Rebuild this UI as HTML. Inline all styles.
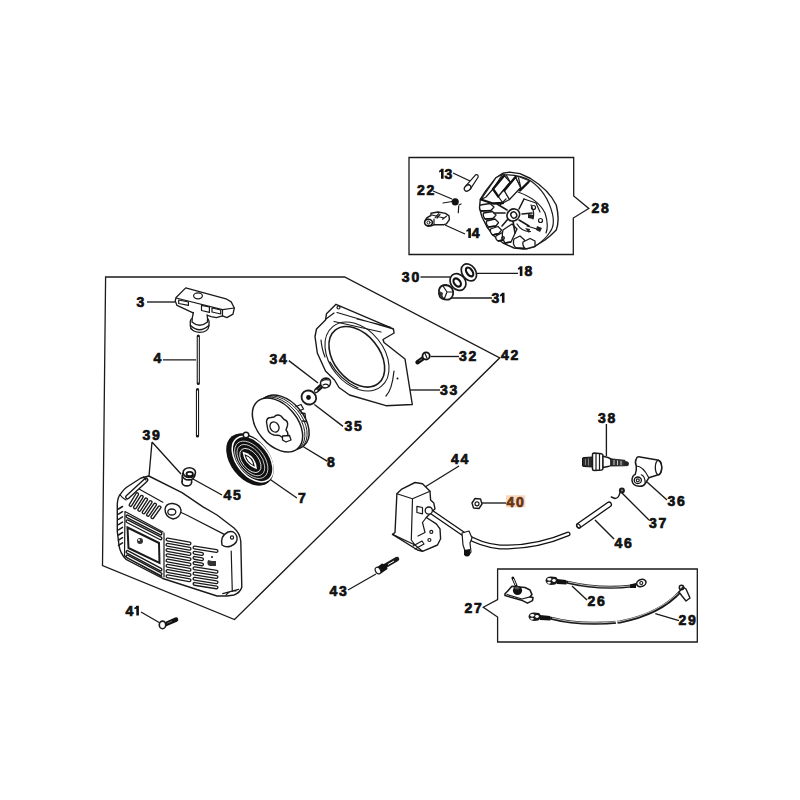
<!DOCTYPE html>
<html><head><meta charset="utf-8">
<style>
html,body{margin:0;padding:0;background:#fff;width:800px;height:800px;overflow:hidden}
svg{display:block}
text{font-family:"Liberation Sans",sans-serif;font-weight:bold;font-size:14px;letter-spacing:1.8px;fill:#111;stroke:#111;stroke-width:0.7}
.l{stroke:#1a1a1a;stroke-width:1.3;fill:none}
.t{stroke:#1a1a1a;stroke-width:1.2;fill:none;stroke-linejoin:round;stroke-linecap:round}
.w{stroke:#1a1a1a;stroke-width:1.2;fill:#fff;stroke-linejoin:round}
</style></head>
<body>
<svg width="800" height="800" viewBox="0 0 800 800">
<rect width="800" height="800" fill="#fff"/>

<!-- ===== frames ===== -->
<path class="l" d="M409,157.5 H573.7 V196 L588.8,208.5 L573.3,218 V254.5 H409 Z"/>
<path class="l" d="M105.6,277 H344.6 L499.8,357.8 L234.5,619.5 L102.5,565.5 Z"/>
<path class="l" d="M497.6,569 H697.3 V642 H497.6 V617 L483.3,607.2 L497.6,599.6 Z"/>

<!-- ===== labels ===== -->
<g id="labels">
<path d="M441.0,168.8 H443.6 V178.7 H441.0 V171.8 L439.1,172.4 V170.7 Q440.7,170.3 441.0,168.8 Z" fill="#111"/><text x="444.6" y="178.7">3</text>
<text x="417" y="195">22</text>
<path d="M468.3,228.2 H470.9 V238.1 H468.3 V231.2 L466.4,231.8 V230.1 Q468.0,229.7 468.3,228.2 Z" fill="#111"/><text x="471.7" y="238.1">4</text>
<text x="591.5" y="213.3">28</text>
<text x="401.8" y="281.5">30</text>
<path d="M519.8,266.2 H522.4 V276.1 H519.8 V269.2 L517.9,269.8 V268.1 Q519.5,267.7 519.8,266.2 Z" fill="#111"/><text x="524.5" y="276.1">8</text>
<text x="491.5" y="302.7">3</text><path d="M501.9,292.8 H504.5 V302.7 H501.9 V295.8 L500.0,296.4 V294.7 Q501.6,294.3 501.9,292.8 Z" fill="#111"/>
<text x="136.5" y="307">3</text>
<text x="153.5" y="363">4</text>
<text x="269.5" y="363.8">34</text>
<text x="459" y="361">32</text>
<text x="501" y="360.4">42</text>
<text x="440" y="394.5">33</text>
<text x="344.5" y="430.6">35</text>
<text x="598" y="422.8">38</text>
<text x="142.5" y="440">39</text>
<text x="327" y="467.2">8</text>
<text x="451" y="463.6">44</text>
<text x="223.5" y="500.4">45</text>
<text x="298" y="502.5">7</text>
<rect x="506" y="495.2" width="19.3" height="12.2" fill="#f7dac3"/>
<text x="506.5" y="506.5" style="fill:#6a3414;stroke:#6a3414">40</text>
<text x="667.5" y="506">36</text>
<text x="649" y="527.6">37</text>
<text x="614.5" y="548">46</text>
<text x="329.5" y="596">43</text>
<text x="587.5" y="606">26</text>
<text x="464.5" y="612.5">27</text>
<text x="678.5" y="625">29</text>
<text x="125.5" y="615.6">4</text><path d="M136.3,605.7 H138.9 V615.6 H136.3 V608.7 L134.4,609.3 V607.6 Q136.0,607.2 136.3,605.7 Z" fill="#111"/>
</g>

<!-- ===== leaders ===== -->
<g class="l" style="stroke-width:1.35">
<path d="M453,173 L470,181"/>
<path d="M433,191 L452,199"/>
<path d="M445,225 L465,234"/>
<path d="M420.5,277 H450"/>
<path d="M477,273.4 H518"/>
<path d="M450,298 H492"/>
<path d="M147,302 H175"/>
<path d="M163,359.8 H196"/>
<path d="M288.8,360.6 L318,383"/>
<path d="M430.6,356.5 H459"/>
<path d="M408,390 H440"/>
<path d="M314.4,404.5 L343,426.4"/>
<path d="M606.4,424 V456"/>
<path d="M152,442 L149,476 M152,442 L181,474"/>
<path d="M303,446.5 L327.5,461.4"/>
<path d="M459,466 L425,487"/>
<path d="M193,479 L222,495"/>
<path d="M270.6,479.8 L296.9,498"/>
<path d="M482,503 H506"/>
<path d="M647,482 L667,500"/>
<path d="M622,493 L649,520"/>
<path d="M595,520 L614,539"/>
<path d="M348,590 L376,574"/>
<path d="M572,586 L587,600"/>
<path d="M655.3,613.6 L679,620.6"/>
<path d="M141,612 L160,623"/>
</g>

<g id="parts">
<!-- 7 recoil spring -->
<g transform="translate(250,459.5) rotate(52)">
<ellipse cx="0" cy="0" rx="29.5" ry="19.5" fill="#111"/>
<ellipse cx="1.3" cy="-2.3" rx="26" ry="16" fill="none" stroke="#fff" stroke-width="1.5"/>
<ellipse cx="1" cy="-0.8" rx="21.5" ry="12.8" fill="none" stroke="#fff" stroke-width="0.7"/>
<ellipse cx="1" cy="-0.3" rx="18" ry="10.5" fill="none" stroke="#fff" stroke-width="0.7"/>
<ellipse cx="1" cy="0.3" rx="14" ry="8" fill="none" stroke="#fff" stroke-width="0.8"/>
<path d="M-11,1 Q0,-7.5 12,0.5 Q1,8 -11,1 Z" fill="#fff"/>
<path d="M-6.5,1 Q0,-3.5 7.5,0.7 Q0.5,4.5 -6.5,1 Z" fill="none" stroke="#111" stroke-width="1.1"/>
</g>
<circle cx="246" cy="435" r="2.8" class="w" style="stroke-width:1.5"/>

<!-- 8 pulley -->
<g transform="translate(284,422) rotate(50)">
<ellipse cx="0" cy="0" rx="31" ry="20" class="w" style="stroke-width:1.5"/>
</g>
<g transform="translate(279.8,424) rotate(50)">
<ellipse cx="0" cy="0" rx="31" ry="20" fill="none" stroke="#1a1a1a" stroke-width="0.9"/>
</g>
<g transform="translate(282,423) rotate(50)">
<ellipse cx="0" cy="0" rx="31" ry="20" fill="none" stroke="#1a1a1a" stroke-width="0.9"/>
</g>
<g transform="translate(277.5,425) rotate(50)">
<ellipse cx="0" cy="0" rx="31" ry="20" class="w" style="stroke-width:1.5"/>
</g>
<path class="w" style="stroke-width:1.4" d="M266.5,422 Q266.5,417.5 271,417.5 L274,417 Q277,413.5 281,416 L284,419.5 Q288.5,421 287.5,425.5 L286,430 Q289.5,434 286.5,437.5 Q282.5,438.5 279.5,435.5 L274,435 Q268,433.5 267.5,428 Z"/>
<ellipse cx="274.5" cy="427" rx="4.3" ry="5.3" class="t" style="stroke-width:1.3" transform="rotate(-30 274.5 427)"/>
<path class="w" style="stroke-width:1.3" d="M282.5,436 L289.5,435.5 L291,440 L286,442 L282.5,440 Z"/>
<path class="t" style="stroke-width:1.3" d="M296,406.5 L301,404.5 L303.5,409 L299,411 M301,413 L305,413.5 L305.5,418 M302.5,421 L306.5,421.5"/>

<!-- 39 starter cover -->
<path class="w" style="stroke-width:1.4" d="M148.8,476 L182,492.6 L203,506.8 L217,515 L234,528 Q240,533 240.8,541.6 L241.8,587.3 Q240,593 234,595 L227,596 L217,596 L162.8,578.5 L126,559.3 Q120,553 119,545.3 L117.3,531.5 L117.3,503.5 Q118,497 120,494.8 Q124,489 127,487 L141,478 Z"/>
<path class="t" d="M120,494.8 Q122,498 126,500 M139,489 L162.8,502.2 M180,512 L186.6,515 L223.8,534.1 M231.2,551.1 L232.3,591.5 M164,533 L164,577"/>
<path class="t" d="M125,511.5 L163,532 M124.5,556 L162,577 M125,511.5 L124.5,556"/>
<path d="M146.0,480.0 L127.5,497.0" stroke="#1a1a1a" stroke-width="5" stroke-linecap="round"/><path d="M146.0,480.0 L127.5,497.0" stroke="#fff" stroke-width="2.2" stroke-linecap="round"/>
<path d="M130.6,505.0 L137.2,494.2" stroke="#1a1a1a" stroke-width="4.1" stroke-linecap="round"/><path d="M130.6,505.0 L137.2,494.2" stroke="#fff" stroke-width="1.4" stroke-linecap="round"/>
<path d="M135.0,507.4 L141.7,496.8" stroke="#1a1a1a" stroke-width="4.1" stroke-linecap="round"/><path d="M135.0,507.4 L141.7,496.8" stroke="#fff" stroke-width="1.4" stroke-linecap="round"/>
<path d="M139.3,509.9 L146.1,499.4" stroke="#1a1a1a" stroke-width="4.1" stroke-linecap="round"/><path d="M139.3,509.9 L146.1,499.4" stroke="#fff" stroke-width="1.4" stroke-linecap="round"/>
<path d="M143.7,512.4 L150.6,502.1" stroke="#1a1a1a" stroke-width="4.1" stroke-linecap="round"/><path d="M143.7,512.4 L150.6,502.1" stroke="#fff" stroke-width="1.4" stroke-linecap="round"/>
<path d="M148.0,514.8 L155.0,504.7" stroke="#1a1a1a" stroke-width="4.1" stroke-linecap="round"/><path d="M148.0,514.8 L155.0,504.7" stroke="#fff" stroke-width="1.4" stroke-linecap="round"/>
<path d="M152.4,517.2 L159.5,507.3" stroke="#1a1a1a" stroke-width="4.1" stroke-linecap="round"/><path d="M152.4,517.2 L159.5,507.3" stroke="#fff" stroke-width="1.4" stroke-linecap="round"/>
<path d="M127.5,516.5 L160.5,533.5" stroke="#1a1a1a" stroke-width="4.1" stroke-linecap="round"/><path d="M127.5,516.5 L160.5,533.5" stroke="#fff" stroke-width="1.4" stroke-linecap="round"/>
<path d="M127.5,521.3 L160.5,538.3" stroke="#1a1a1a" stroke-width="4.1" stroke-linecap="round"/><path d="M127.5,521.3 L160.5,538.3" stroke="#fff" stroke-width="1.4" stroke-linecap="round"/>
<path d="M127.5,552.0 L160.5,569.5" stroke="#1a1a1a" stroke-width="4.1" stroke-linecap="round"/><path d="M127.5,552.0 L160.5,569.5" stroke="#fff" stroke-width="1.4" stroke-linecap="round"/>
<path d="M127.5,556.5 L160.5,574.0" stroke="#1a1a1a" stroke-width="4.1" stroke-linecap="round"/><path d="M127.5,556.5 L160.5,574.0" stroke="#fff" stroke-width="1.4" stroke-linecap="round"/>
<path d="M127.5,527.5 L159,543 L159.5,563 L128.5,548 Z" fill="#fff" stroke="#1a1a1a" stroke-width="2"/>
<circle cx="140" cy="541" r="3" fill="#333"/><circle cx="139" cy="540" r="1" fill="#fff"/>
<path class="t" style="stroke-width:1.5" d="M118.5,509.0 L122.5,506.5 M118.5,514.2 L122.5,511.7 M118.5,519.4 L122.5,516.9 M118.5,524.6 L122.5,522.1 M118.5,529.8 L122.5,527.3 M118.5,535.0 L122.5,532.5 M118.5,540.2 L122.5,537.7 M118.5,545.4 L122.5,542.9"/>
<path d="M167.5,539.5 L189.5,543.5" stroke="#1a1a1a" stroke-width="4.1" stroke-linecap="round"/><path d="M167.5,539.5 L189.5,543.5" stroke="#fff" stroke-width="1.4" stroke-linecap="round"/>
<path d="M167.5,544.8 L189.5,548.8" stroke="#1a1a1a" stroke-width="4.1" stroke-linecap="round"/><path d="M167.5,544.8 L189.5,548.8" stroke="#fff" stroke-width="1.4" stroke-linecap="round"/>
<path d="M167.5,550.0 L189.5,554.0" stroke="#1a1a1a" stroke-width="4.1" stroke-linecap="round"/><path d="M167.5,550.0 L189.5,554.0" stroke="#fff" stroke-width="1.4" stroke-linecap="round"/>
<path d="M167.5,555.2 L189.5,559.2" stroke="#1a1a1a" stroke-width="4.1" stroke-linecap="round"/><path d="M167.5,555.2 L189.5,559.2" stroke="#fff" stroke-width="1.4" stroke-linecap="round"/>
<path d="M167.5,560.5 L189.5,564.5" stroke="#1a1a1a" stroke-width="4.1" stroke-linecap="round"/><path d="M167.5,560.5 L189.5,564.5" stroke="#fff" stroke-width="1.4" stroke-linecap="round"/>
<path d="M167.5,565.8 L189.5,569.8" stroke="#1a1a1a" stroke-width="4.1" stroke-linecap="round"/><path d="M167.5,565.8 L189.5,569.8" stroke="#fff" stroke-width="1.4" stroke-linecap="round"/>
<path d="M167.5,571.0 L189.5,575.0" stroke="#1a1a1a" stroke-width="4.1" stroke-linecap="round"/><path d="M167.5,571.0 L189.5,575.0" stroke="#fff" stroke-width="1.4" stroke-linecap="round"/>
<path d="M167.5,576.2 L189.5,580.2" stroke="#1a1a1a" stroke-width="4.1" stroke-linecap="round"/><path d="M167.5,576.2 L189.5,580.2" stroke="#fff" stroke-width="1.4" stroke-linecap="round"/>
<path d="M194.5,547.5 L216.5,551.0" stroke="#1a1a1a" stroke-width="4.1" stroke-linecap="round"/><path d="M194.5,547.5 L216.5,551.0" stroke="#fff" stroke-width="1.4" stroke-linecap="round"/>
<path d="M194.5,552.7 L202.0,554.0" stroke="#1a1a1a" stroke-width="4.1" stroke-linecap="round"/><path d="M194.5,552.7 L202.0,554.0" stroke="#fff" stroke-width="1.4" stroke-linecap="round"/>
<path d="M194.5,557.9 L202.0,559.2" stroke="#1a1a1a" stroke-width="4.1" stroke-linecap="round"/><path d="M194.5,557.9 L202.0,559.2" stroke="#fff" stroke-width="1.4" stroke-linecap="round"/>
<path d="M194.5,563.1 L202.0,564.4" stroke="#1a1a1a" stroke-width="4.1" stroke-linecap="round"/><path d="M194.5,563.1 L202.0,564.4" stroke="#fff" stroke-width="1.4" stroke-linecap="round"/>
<path d="M194.5,568.3 L216.5,571.8" stroke="#1a1a1a" stroke-width="4.1" stroke-linecap="round"/><path d="M194.5,568.3 L216.5,571.8" stroke="#fff" stroke-width="1.4" stroke-linecap="round"/>
<path d="M194.5,573.5 L216.5,577.0" stroke="#1a1a1a" stroke-width="4.1" stroke-linecap="round"/><path d="M194.5,573.5 L216.5,577.0" stroke="#fff" stroke-width="1.4" stroke-linecap="round"/>
<path d="M194.5,578.7 L216.5,582.2" stroke="#1a1a1a" stroke-width="4.1" stroke-linecap="round"/><path d="M194.5,578.7 L216.5,582.2" stroke="#fff" stroke-width="1.4" stroke-linecap="round"/>
<path d="M194.5,583.9 L216.5,587.4" stroke="#1a1a1a" stroke-width="4.1" stroke-linecap="round"/><path d="M194.5,583.9 L216.5,587.4" stroke="#fff" stroke-width="1.4" stroke-linecap="round"/>
<path d="M208,560 Q206,565 210,566 L216,566 L216,561 L212,561 Z" fill="#333"/><circle cx="212" cy="557" r="1.1" fill="#222"/>
<path class="w" style="stroke-width:1.4" d="M165,509 Q166,503 173,503.5 Q181,505 181,511 Q180,518 173,519 Q165,517 165,509 Z"/>
<ellipse cx="171.8" cy="512" rx="4" ry="3" class="t" style="stroke-width:1.3"/>
<path class="w" style="stroke-width:1.4" d="M222,545 Q220,536 228,532 Q235,530 237,537 Q238,543 231,546 Q226,548 222,545 Z"/>
<circle cx="232" cy="537.5" r="1.6" class="t"/>
<path class="t" d="M222.7,593.6 L238.6,589.4 M226,595 Q230,590 236,591"/>
<path class="t" d="M143.5,477 L146,480"/>

<!-- 45 grommet -->
<ellipse cx="186.8" cy="482.3" rx="4.8" ry="3.6" class="w" style="stroke-width:1.6"/>
<path d="M182.5,478 L191.5,478 L191.5,482 L182.5,482 Z" fill="#fff"/>
<path class="t" style="stroke-width:1.5" d="M182.2,476 L182.2,482 M191.6,476 L191.6,482"/>
<ellipse cx="188.6" cy="475.3" rx="6.2" ry="4.6" class="w" style="stroke-width:1.6"/>
<ellipse cx="189.3" cy="472.6" rx="6.2" ry="4.8" class="w" style="stroke-width:1.6"/>
<ellipse cx="189.7" cy="474" rx="3.2" ry="2.2" fill="#fff" stroke="#111" stroke-width="1.8"/>

<!-- 41 screw -->
<path fill="none" stroke="#111" stroke-width="4.6" stroke-linecap="round" d="M166,624 L176,619.6"/>
<path stroke="#777" stroke-width="0.8" d="M167,623.3 L172,621.2"/>
<ellipse cx="162.5" cy="624.9" rx="3.2" ry="3.8" class="w" style="stroke-width:1.6"/>

<!-- 3 handle -->
<path class="w" style="stroke-width:1.3" d="M176.1,297.5 L185.7,287.9 L226,298.8 L231.2,301.9 L234.3,308 L233,314.1 L226.9,317.6 L222.5,315.9 L216.4,317.6 L211.1,316.7 L206.7,315 L207.6,318.5 L208.5,322 L207.6,329 L198.9,331.6 L191,329 L190.6,322.9 L193.6,316.7 L193.6,313.2 L177,305.4 L175.2,301 Z"/>
<path class="t" d="M176.1,298 L222.5,309.7 L234.3,308 M222.5,309.7 L222.5,316"/>
<ellipse cx="198" cy="295.8" rx="4.4" ry="3" class="t"/>
<path class="t" d="M178.7,300 L188.4,302 L188.4,305.4 L178.7,303.5 Z M201.5,305.4 L209.4,307 L209.4,312.4 L201.5,310.5 Z M212,308 L220.7,310 L220.7,314 L212,312 Z"/>
<path class="w" style="stroke-width:1.3" d="M190.3,321 Q191,316.5 199.5,316.8 Q208.5,317.2 209,321 L209,326 Q208,332.3 199.5,332.3 Q191,331.8 190.3,326 Z"/>
<path class="t" d="M190.6,325.5 Q199.5,334 208.8,325.5"/>
<path class="w" style="stroke-width:1.3" d="M193.5,312 Q192,318 192,322 Q199.5,328.5 207.5,322 Q207.5,318 207,314.5"/><path fill="#fff" d="M194.5,311 L206,313.5 L206.5,320 L193.5,320 Z"/>

<!-- 4 rope -->
<path class="t" style="stroke-width:3.2" d="M198.3,336 V383.5 M197.5,389.5 V436"/>
<path stroke="#fff" stroke-width="1" d="M198.3,337 V382.5 M197.5,390.5 V435"/>

<!-- 28 flywheel -->
<path class="w" style="stroke-width:1.4" d="M480.25,199.5 L485.5,191.25 L496,177.75 L502.75,173.25 L509.5,172.1 L520,173.6 L530.5,178.5 Q549,190 556.25,205 Q560,220 556.25,230 L550,236 L545,240 L535,246.25 L524.5,249 L514,248 L503,243 L494,236 L487,227 L482,217 L479.5,208 Z"/>
<path class="t" d="M502.75,174.75 Q520,174.5 530.5,180.75 Q547,192 552.5,214 Q555,226 550,232 Q545,240 535,246.25 L528.75,247.5 M518,192 Q538,199 545,213 Q549,225 546,233"/>
<!-- blades -->
<g class="w" style="stroke-width:1.2">
<path d="M481,199.5 L496,177.75 L502.75,174 L493,189 L486,197 Z"/>
<path d="M493,189 L504.25,175.5 L510.25,182.25 L498.25,196.5 Z"/>
<path d="M498.25,196.5 L510.25,182.25 L504.25,190.5 L509.5,199.5 L503,203 Z"/>
<path d="M504.25,190.5 L515.5,177 L520.75,187.5 L509.5,199.5 Z"/>
<path d="M515.5,177 L518.5,176.5 L530,181 L528.25,182.25 L520,190.5 L520.75,187.5 Z"/>
</g>
<path fill="none" stroke="#111" stroke-width="2.3" stroke-linejoin="round" stroke-linecap="round" d="M493,189 L504.25,175.5 M493,189 L498.25,196.5 M504.25,190.5 L515.5,177 M520,190.5 L528.25,182.25 M481,199.5 L493,203.5 L503,203"/>
<path class="t" d="M506.5,175.5 L510.25,182.25 M518.5,177.75 L520.75,187.5"/>
<!-- left tongues -->
<g class="w" style="stroke-width:1.3">
<path d="M480.3,205 L490,203.5 L494,207 L491,210.5 L481,211 Q478.5,208 480.3,205 Z"/>
<path d="M483.5,213 L492.5,211.5 L496,215 L493,218.5 L485,219 Q482.5,216 483.5,213 Z"/>
<path d="M486.5,221 L495,219 L498.5,222.5 L496,226 L488.5,227 Q485.5,224 486.5,221 Z"/>
<path d="M490.5,229 L498,226.5 L501.5,230 L499,233.5 L492.5,235 Q489.5,232 490.5,229 Z"/>
<path d="M496,236 L502.5,232.5 L506,236 L503,240 L498,241 Q495,239 496,236 Z"/>
</g>
<!-- lower fins -->
<g class="w" style="stroke-width:1.3">
<path d="M503,230 L512,224 L517,229 L511,242 L505,243 Q501,238 503,230 Z"/>
<path d="M514,239 L520,236 L524.5,240 L524,248.5 L516,248 Q512,244 514,239 Z"/>
<path d="M523,242 L530,238.5 L535,241 L535,246.5 L526,249 Q522,246 523,242 Z"/>
</g>
<path fill="none" stroke="#111" stroke-width="1.7" d="M491,210.5 L481,211 M493,218.5 L485,219 M496,226 L488.5,227 M499,233.5 L492.5,235 M503,240 L498,241 M511,242 L505,243 M524,248.5 L516,248"/>
<!-- spokes / hub -->
<g class="t" style="stroke-width:1.6">
<path d="M507,210 L497,204 M519,209 L524,199 M508,219 L502,226 M519,220 L529,226 M513,221 L515,233 M522,214 L532,213 M505,213 L494,213"/>
</g>
<path class="t" d="M517,224 Q522,232 530.5,231.5 M524,199 L536,203 L540,212 M531,205 Q535,212 533,219 M527,226 L540,230 M500,205 L506,199"/>
<ellipse cx="513.3" cy="215" rx="6.6" ry="5.8" class="w" style="stroke-width:1.6" transform="rotate(-35 513.3 215)"/>
<ellipse cx="513.8" cy="215" rx="2.8" ry="3.2" class="t" style="stroke-width:1.4" transform="rotate(-35 513.8 215)"/>
<circle cx="533.5" cy="207.5" r="2" class="t"/><circle cx="540.5" cy="220.5" r="2" class="t"/><circle cx="503" cy="238" r="1.4" class="t"/>
<path d="M528,214 L534,215 L533,219 L528,218 Z M537,226 L542,228 L540,232 L536,230 Z M525,228 L530,229 L529,233 Z" fill="#222"/>

<!-- 13 pin -->
<path class="w" style="stroke-width:1.2" d="M465.8,185.8 L475.8,174.6 Q478.3,174.2 478.2,177 L470.3,189.2 Z"/>
<ellipse cx="467.6" cy="188" rx="3.6" ry="2.7" class="w" style="stroke-width:1.3" transform="rotate(-40 467.6 188)"/>
<!-- 22 spring -->
<circle cx="455.2" cy="201.8" r="3.6" fill="#111"/>
<path class="t" d="M443,203 L452,201.5 M458.7,206 L458.3,212.7 M459,205 L461,204"/>
<!-- 14 pawl -->
<path class="w" style="stroke-width:1.4" d="M425,221 Q426,217.5 431,215.5 L431,213.2 L437.9,212 L445.5,213.4 L449,215.8 L449.4,219.6 L446.4,223.9 L443.8,224.7 L434,224.7 Q431,226.5 428,226 Q424.5,225 425,221 Z"/>
<ellipse cx="428.5" cy="222.6" rx="3.9" ry="3.3" fill="#fff" stroke="#111" stroke-width="1.6"/>
<circle cx="428.5" cy="222.6" r="1.5" class="t" style="stroke-width:1"/>
<path class="t" d="M435.3,217.5 L438.7,213.7 M437,218 L440,214.5 M442.5,219.2 L446.4,216.2 M432,215 L444,218 M434,224.7 L434,219"/>

<!-- 30 washer, 18 washer, 31 nut -->
<ellipse cx="458" cy="282" rx="9" ry="7.3" class="w" style="stroke-width:1.7" transform="rotate(52 458 282)"/>
<ellipse cx="457.2" cy="282.5" rx="4.6" ry="3" fill="#fff" stroke="#111" stroke-width="2.2" transform="rotate(52 457.2 282.5)"/>
<ellipse cx="468.9" cy="272.4" rx="9.2" ry="6.8" class="w" style="stroke-width:1.7" transform="rotate(55 468.9 272.4)"/>
<ellipse cx="469.6" cy="271.9" rx="5" ry="2.8" fill="#fff" stroke="#111" stroke-width="2.2" transform="rotate(55 469.6 271.9)"/>
<path class="w" style="stroke-width:1.8" d="M439,290 Q440,285 446,285 Q452,286 453,291 Q454,297 449,299.5 Q443,300.5 440,297 Q438.5,294 439,290 Z"/>
<path class="t" d="M443,286 L447,292 L453,292 M447,292 L444,299.5 M440,293 Q442,297 444,299"/>
<path d="M439.5,291 L443,293 L442,298 L440,296 Z" fill="#333"/>
<!-- 33 shroud -->
<path class="w" style="stroke-width:1.4" d="M336,304.3 L393.4,328.8 L394.1,333 L383,339.5 L384,342.5 L405,359 L412.3,404.5 L386,405.7 L349.5,395 L339,387.5 L334.5,380 L325.5,371 L317.3,353 L315,336.5 L316.5,329 L325.5,320 L326.5,313.7 Z"/>
<ellipse cx="357" cy="356.5" rx="38.5" ry="27" class="t" style="stroke-width:1.1" transform="rotate(51 357 356.5)"/>
<ellipse cx="356.8" cy="356.8" rx="34.3" ry="22.7" class="t" style="stroke-width:1.6" transform="rotate(51 356.8 356.8)"/>
<path class="t" d="M337,312.5 L393,329 M334,321.5 L381,332 M357,319 L390,327 M326,319 L334,313 M330,362 Q340,380 358,388 M394,371 Q392,390 386,396 M321,340 Q322,350 325,357"/>
<circle cx="338.5" cy="307.5" r="1.5" class="t"/>
<circle cx="397.5" cy="378.5" r="1" fill="#111"/>

<!-- 32 screw -->
<path fill="none" stroke="#111" stroke-width="4.4" stroke-linecap="round" d="M417.5,362.3 L423.5,358"/>
<path stroke="#888" stroke-width="0.8" d="M419,361 L422.5,358.5"/>
<circle cx="426.1" cy="355.9" r="3.6" fill="#fff" stroke="#111" stroke-width="1.8"/>
<path class="t" d="M425,353.5 L427,358"/>

<!-- 34 screw -->
<path fill="none" stroke="#111" stroke-width="5" stroke-linecap="round" d="M316.5,390.5 L322.5,385"/>
<path stroke="#666" stroke-width="1" d="M317.5,389.5 L321.5,386"/>
<ellipse cx="316.3" cy="390.8" rx="1.4" ry="1" fill="#fff" transform="rotate(-40 316.3 390.8)"/>
<path class="w" style="stroke-width:1.5" d="M320.5,383 Q321,378.5 326,378 Q331,378.5 330.5,383 Q330,387.5 325,388 Q320.5,387.5 320.5,383 Z"/>
<path class="t" d="M322,381 Q325,379 328.5,380 M323,385 Q327,383 329,386"/>
<!-- 35 washer -->
<ellipse cx="308.8" cy="397.5" rx="7.5" ry="6.8" class="w" style="stroke-width:1.8" transform="rotate(30 308.8 397.5)"/>
<circle cx="308.5" cy="397.5" r="2.4" fill="#111"/>
<!-- 44 coil -->
<path class="w" style="stroke-width:1.4" d="M396.9,493.8 L401.3,489.4 L415,482.5 L422.5,483.8 L430,491.3 L430.6,500 L433.8,503.1 L435,508.8 L426.3,517.5 L436.3,523.8 L440,528.8 L440.6,538.8 L437.5,545 L422.5,551.3 L417.5,550 L392.5,534.4 L395,532.5 Z"/>
<path class="t" d="M396.9,493.8 L412.5,498.8 L430,491.3 M412.5,498.8 L411.3,540 M392.5,534.4 L415,545 L422.5,551.3 M411.3,540 L415,545 M422.5,522.5 L425,532.5 L418,536 M426.3,517.5 L422.5,522.5"/>
<path class="t" d="M416.9,506.3 L422.5,507.5 L422.5,513.8 L416.9,512.5 Z"/>
<circle cx="431.3" cy="531.9" r="1.5" class="t"/><circle cx="429.4" cy="540" r="1.5" class="t"/>
<path class="t" style="stroke-width:1.2" d="M413,546 L422,541 L424,544 L415,549"/>
<!-- wire -->
<path fill="none" stroke="#111" stroke-width="5" stroke-linecap="round" d="M430,511 L465,535 Q480,545 500,547 Q535,548 568,534"/>
<path fill="none" stroke="#fff" stroke-width="2.4" stroke-linecap="round" d="M430,511 L465,535 Q480,545 500,547 Q535,548 568,534"/>
<circle cx="428.8" cy="510.6" r="3.6" class="w" style="stroke-width:1.3"/>
<path class="w" d="M462,533 L469,531 L472,538 L470,543 L471,552 Q469,556 466,554 L463,545 Z"/>
<path d="M464,550 L470,549 L470,555 Q467,558 464,555 Z" fill="#111"/>
<!-- 40 nut -->
<path class="w" style="stroke-width:1.4" d="M472,503 L475,498.5 L480.5,499 L482,504 L479,508.5 L473.5,508 Z"/>
<circle cx="477" cy="503.8" r="2" class="t"/>
<!-- 43 screw -->
<path class="t" style="stroke-width:4.5" d="M385,566 L397,559"/>
<path stroke="#fff" stroke-width="1" d="M388,564.5 L394,561"/>
<path d="M376,568 L382,563.5 L386.5,565 L387.5,569 L381,573.5 L377,573 Z" fill="#111"/>
<ellipse cx="378" cy="570.6" rx="2.5" ry="3.5" class="w" transform="rotate(-30 378 570.6)"/>

<!-- 38 spark plug -->
<path d="M582.5,459 Q582,457.5 584,457.5 L592.5,457 L592.5,467 L584,466.5 Q582,466.5 582.5,465 Z" fill="#2a2a2a" stroke="#111" stroke-width="1"/>
<path stroke="#aaa" stroke-width="0.7" d="M585.5,459 V465 M588.5,458.5 V465.5"/>
<path class="w" style="stroke-width:1.5" d="M592.5,454.5 Q592.5,453 594.5,453 L601.5,453.8 Q603,454 603,456 L603,468 Q603,469.8 601.5,470 L594.5,470.5 Q592.5,470.5 592.5,469 Z"/>
<path class="t" d="M596,453.5 V470.3 M599.5,454 V469.8"/>
<path class="w" style="stroke-width:1.4" d="M603,456.3 L608,457.5 Q611,458.5 611,460 L611,465 Q611,466 608,466.5 L603,467.5 Z"/>
<path d="M611,458.8 L625,460.3 L625,465.8 L611,466 Z" fill="#333" stroke="#111" stroke-width="0.8"/>
<path stroke="#ddd" stroke-width="0.9" d="M614,460 V465 M617.5,460.4 V465 M621,460.7 V465.2"/>
<path d="M625,461.3 L627,461.3 Q629,462 629,463.8 Q629,466 627,466.3 L625,466 Z" fill="#222"/>

<!-- 36 boot -->
<path class="w" style="stroke-width:1.5" d="M636.3,458.8 Q637,456.5 640,456.9 L657.5,460 Q661.5,461 661.8,467.5 Q661.5,474.5 657.5,475 L648.8,477.8 L645.3,483.5 Q643,486.8 638.8,486.3 Q632.5,485.5 632,480.5 Q632,476 635.2,474.4 Q636.8,470 636.3,466 Q634.5,462 636.3,458.8 Z"/>
<ellipse cx="658.5" cy="467.5" rx="3.2" ry="7.3" class="t" style="stroke-width:1.3"/>
<ellipse cx="637.8" cy="480.3" rx="3.6" ry="3.3" fill="#fff" stroke="#111" stroke-width="1.3"/>
<circle cx="637.8" cy="480.3" r="1.5" class="t"/>
<path class="t" d="M636.3,466 Q643,466 648.8,477.8 M641.3,474.8 Q645,476 645.3,483.5"/>

<!-- 37 spring -->
<circle cx="621.9" cy="490.6" r="3" fill="#1a1a1a"/>
<circle cx="622" cy="490.4" r="1.1" fill="#777"/>
<path class="t" style="stroke-width:1.5" d="M619.8,493 Q619,498 615,498.5 L611.3,497"/>

<!-- 46 pin -->
<path fill="none" stroke="#111" stroke-width="6" stroke-linecap="round" d="M579,525.5 L609,504.5"/>
<path fill="none" stroke="#fff" stroke-width="3.4" stroke-linecap="round" d="M579,525.5 L609,504.5"/>
<ellipse cx="578.5" cy="526" rx="1.5" ry="2.3" class="t" transform="rotate(-35 578.5 526)"/>

<!-- 27 switch -->
<path class="w" style="stroke-width:1.6" d="M505,593.8 L507.5,591.3 L511.9,586.3 L525,587.5 L530,590 L531.9,594.4 L530,596.9 L533,597.5 L532.5,600.6 L527.5,603.1 L522.5,600.6 L505,595.6 Z"/>
<path class="t" d="M507,594.5 L522,599 L530,596.9"/>
<path fill="none" stroke="#111" stroke-width="2.8" stroke-linecap="round" d="M516.3,586 L512.8,578"/>
<path fill="none" stroke="#fff" stroke-width="0.9" d="M515.8,585 L513.3,579"/>
<circle cx="517.5" cy="590.5" r="4.6" fill="#111"/>
<ellipse cx="517" cy="588" rx="2.6" ry="1.6" fill="#555"/>
<!-- 26 wire -->
<path d="M545.5,580.5 Q546,576.5 551,576.5 L556,577 Q558.5,579 557.5,582.5 Q556,585 551,585 Q546,584.5 545.5,580.5 Z" fill="#1a1a1a"/>
<ellipse cx="549.3" cy="579.3" rx="2.2" ry="1.4" fill="#fff"/><ellipse cx="554" cy="580.5" rx="1.8" ry="1.4" fill="#fff"/><ellipse cx="549" cy="582.7" rx="1.8" ry="1" fill="#fff"/>
<path d="M557,579 L566,580 L566.5,584.5 L557,584 Z" fill="#111"/>
<path fill="none" stroke="#1a1a1a" stroke-width="3" d="M566,582 Q600,590 632,586"/>
<path fill="none" stroke="#fff" stroke-width="0.7" d="M568,582 Q600,589.5 630,586"/>
<path d="M630,584.5 L636,583 L636,588 L630,588 Z" fill="#111"/>
<ellipse cx="641.3" cy="583" rx="4.8" ry="3.5" class="w" style="stroke-width:1.6" transform="rotate(-20 641.3 583)"/>
<circle cx="641.3" cy="583" r="1.5" class="t"/>
<!-- 29 wire -->
<path d="M528.5,616.5 Q529,612.5 534,612.5 L539,613 Q541.5,615 540.5,618.5 Q539,621 534,621 Q529,620.5 528.5,616.5 Z" fill="#1a1a1a"/>
<ellipse cx="532.3" cy="615.3" rx="2.2" ry="1.4" fill="#fff"/><ellipse cx="537" cy="616.5" rx="1.8" ry="1.4" fill="#fff"/><ellipse cx="532" cy="618.7" rx="1.8" ry="1" fill="#fff"/>
<path d="M540,615 L550,616 L550.5,620.5 L540,620 Z" fill="#111"/>
<path fill="none" stroke="#1a1a1a" stroke-width="3" d="M550,618 Q580,626 620,622 Q660,614 680,592"/>
<path fill="none" stroke="#fff" stroke-width="0.7" d="M552,618 Q580,625.5 620,621.5 Q658,613.5 678.5,593"/>
<path stroke="#fff" stroke-width="1.5" d="M616,620 L617,624"/>
<path class="w" style="stroke-width:1.4" d="M679,592 L683,587 L686,589 L690,598 L686,601 L682,596 Z"/>
<circle cx="681.5" cy="587.5" r="2.2" class="t" style="stroke-width:1.5"/>
</g>
</svg>
</body></html>
